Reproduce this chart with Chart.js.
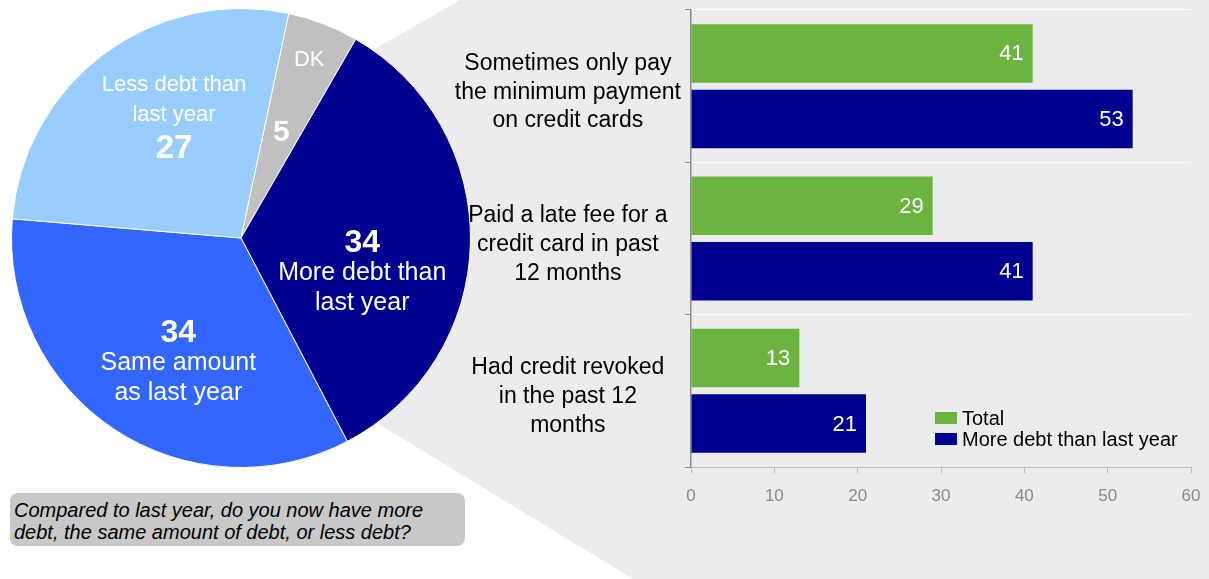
<!DOCTYPE html>
<html>
<head>
<meta charset="utf-8">
<script src="https://cdn.jsdelivr.net/npm/chart.js@4.4.1/dist/chart.umd.min.js"></script>
<style>
  html, body { margin: 0; padding: 0; background: #fff; }
  body { width: 1209px; height: 579px; position: relative; overflow: hidden; font-family: 'Liberation Sans', Arial, sans-serif; }
  #zoomShade {
    position: absolute; left: 0; top: 0; width: 1209px; height: 579px;
    background: #ececec;
    clip-path: polygon(373px 50px, 460px 0px, 1209px 0px, 1209px 579px, 633px 579px, 377px 423px);
  }
  #pieWrap { position: absolute; left: 11px; top: 8px; width: 460px; height: 460px; }
  #barWrap { position: absolute; left: 440px; top: 0; width: 769px; height: 579px; }
  #question {
    position: absolute; left: 10px; top: 493px; width: 447px; height: 47px;
    padding: 6px 4px 0 4px; background: #c8c8c8; border-radius: 8px;
    font-style: italic; font-size: 20px; line-height: 22px; color: #000;
  }
</style>
</head>
<body>
<div id="zoomShade"></div>
<div id="pieWrap"><canvas id="pieChart"></canvas></div>
<div id="barWrap"><canvas id="barChart"></canvas></div>
<div id="question">Compared to last year, do you now have more debt, the same amount of debt, or less debt?</div>

<script>
const FONT = "'Liberation Sans', Arial, sans-serif";

// pie: compared to last year
const pieLabels = [['DK'], ['More debt than', 'last year'], ['Same amount', 'as last year'], ['Less debt than', 'last year']];
const pieValues = [5, 34, 34, 27];
const pieColors = ['#c0c0c0', '#000090', '#3366ff', '#99ccff'];

// bars: credit card behaviour
const barCategories = [
  ['Sometimes only pay', 'the minimum payment', 'on credit cards'],
  ['Paid a late fee for a', 'credit card in past', '12 months'],
  ['Had credit revoked', 'in the past 12', 'months'],
];
const seriesNames = ['Total', 'More debt than last year'];
const totalValues = [41, 29, 13];
const moreDebtValues = [53, 41, 21];
const seriesColors = ['#6db33f', '#000090'];

// where each pie label sits: angle nudge (deg) from slice middle, radius fraction, font sizes
const pieLabelPlace = [
  { nudge: 0, r: 0.83, valueR: 0.49, size: 22, valueSize: 30 },
  { nudge: 15, r: 0.55, valueFirst: true, size: 25, valueSize: 32 },
  { nudge: -7, r: 0.61, valueFirst: true, size: 25, valueSize: 32 },
  { nudge: 8, r: 0.61, valueFirst: false, size: 22, valueSize: 33 },
];

const pieLabelPlugin = {
  id: 'pieLabels',
  afterDatasetsDraw(chart) {
    const ctx = chart.ctx;
    const arcs = chart.getDatasetMeta(0).data;
    ctx.save();
    ctx.fillStyle = '#fff';
    ctx.textAlign = 'center';
    ctx.textBaseline = 'middle';
    arcs.forEach((arc, i) => {
      const p = pieLabelPlace[i];
      const mid = (arc.startAngle + arc.endAngle) / 2 + p.nudge * Math.PI / 180;
      const at = f => [arc.x + Math.cos(mid) * arc.outerRadius * f, arc.y + Math.sin(mid) * arc.outerRadius * f];
      const value = String(chart.data.datasets[0].data[i]);
      const lines = chart.data.labels[i];
      if (p.valueR) {
        let [x, y] = at(p.r);
        ctx.font = `${p.size}px ${FONT}`;
        ctx.fillText(lines[0], x, y);
        [x, y] = at(p.valueR);
        ctx.font = `bold ${p.valueSize}px ${FONT}`;
        ctx.fillText(value, x, y);
        return;
      }
      const [x, y] = at(p.r);
      const rows = p.valueFirst ? [value, ...lines] : [...lines, value];
      rows.forEach((t, k) => {
        const isVal = p.valueFirst ? k === 0 : k === 2;
        ctx.font = isVal ? `bold ${p.valueSize}px ${FONT}` : `${p.size}px ${FONT}`;
        const off = p.valueFirst ? (k - 1) * 30 : (k === 2 ? 34 : (k - 1) * 30);
        ctx.fillText(t, x, y + off);
      });
    });
    ctx.restore();
  },
};

const barLabelPlugin = {
  id: 'barLabels',
  afterDatasetsDraw(chart) {
    const ctx = chart.ctx;
    ctx.save();
    ctx.font = `22px ${FONT}`;
    ctx.fillStyle = '#fff';
    ctx.textAlign = 'right';
    ctx.textBaseline = 'middle';
    chart.data.datasets.forEach((ds, d) => {
      chart.getDatasetMeta(d).data.forEach((bar, i) => {
        ctx.fillText(String(ds.data[i]), bar.x - 9, bar.y + 1);
      });
    });
    // legend inside plot area
    const { left, bottom } = chart.chartArea;
    ctx.textAlign = 'left';
    ctx.font = `20px ${FONT}`;
    chart.data.datasets.forEach((ds, d) => {
      const y = bottom - 49 + d * 21;
      ctx.fillStyle = ds.backgroundColor;
      ctx.fillRect(left + 244, y - 6, 22, 12);
      ctx.fillStyle = '#000';
      ctx.fillText(ds.label, left + 271, y + 1);
    });
    ctx.restore();
  },
};

new Chart(document.getElementById('pieChart'), {
  type: 'pie',
  data: {
    labels: pieLabels,
    datasets: [{
      data: pieValues,
      backgroundColor: pieColors,
      borderColor: '#fff',
      borderWidth: 1,
    }],
  },
  options: {
    responsive: true,
    maintainAspectRatio: false,
    animation: false,
    rotation: 12,
    layout: { padding: 0 },
    plugins: { legend: { display: false }, tooltip: { enabled: false } },
  },
  plugins: [pieLabelPlugin],
});

new Chart(document.getElementById('barChart'), {
  type: 'bar',
  data: {
    labels: barCategories,
    datasets: [
      { label: seriesNames[0], data: totalValues, backgroundColor: seriesColors[0] },
      { label: seriesNames[1], data: moreDebtValues, backgroundColor: seriesColors[1] },
    ],
  },
  options: {
    indexAxis: 'y',
    responsive: true,
    maintainAspectRatio: false,
    animation: false,
    categoryPercentage: 0.86,
    barPercentage: 0.893,
    layout: { padding: { top: 10, right: 18, bottom: 0, left: 0 } },
    plugins: { legend: { display: false }, tooltip: { enabled: false } },
    scales: {
      x: {
        min: 0, max: 60,
        ticks: { stepSize: 10, color: '#888', padding: 13, font: { family: FONT, size: 17 } },
        grid: { drawOnChartArea: false, tickLength: 6, tickColor: '#bbb' },
        border: { color: '#c0c0c0', dash: [7, 5], width: 1 },
        afterFit: s => { s.height = 112; s.paddingLeft = 0; s.paddingRight = 0; },
      },
      y: {
        ticks: { color: '#000', padding: 4, labelOffset: 6, crossAlign: 'center', font: { family: FONT, size: 23, lineHeight: 1.25 } },
        grid: { offset: true, color: 'rgba(255,255,255,0.9)', tickColor: '#888', tickLength: 6 },
        border: { color: '#888', width: 1.5 },
        afterFit: s => { s.width = 251; s.paddingTop = 0; s.paddingBottom = 0; },
      },
    },
  },
  plugins: [barLabelPlugin],
});
</script>
</body>
</html>
